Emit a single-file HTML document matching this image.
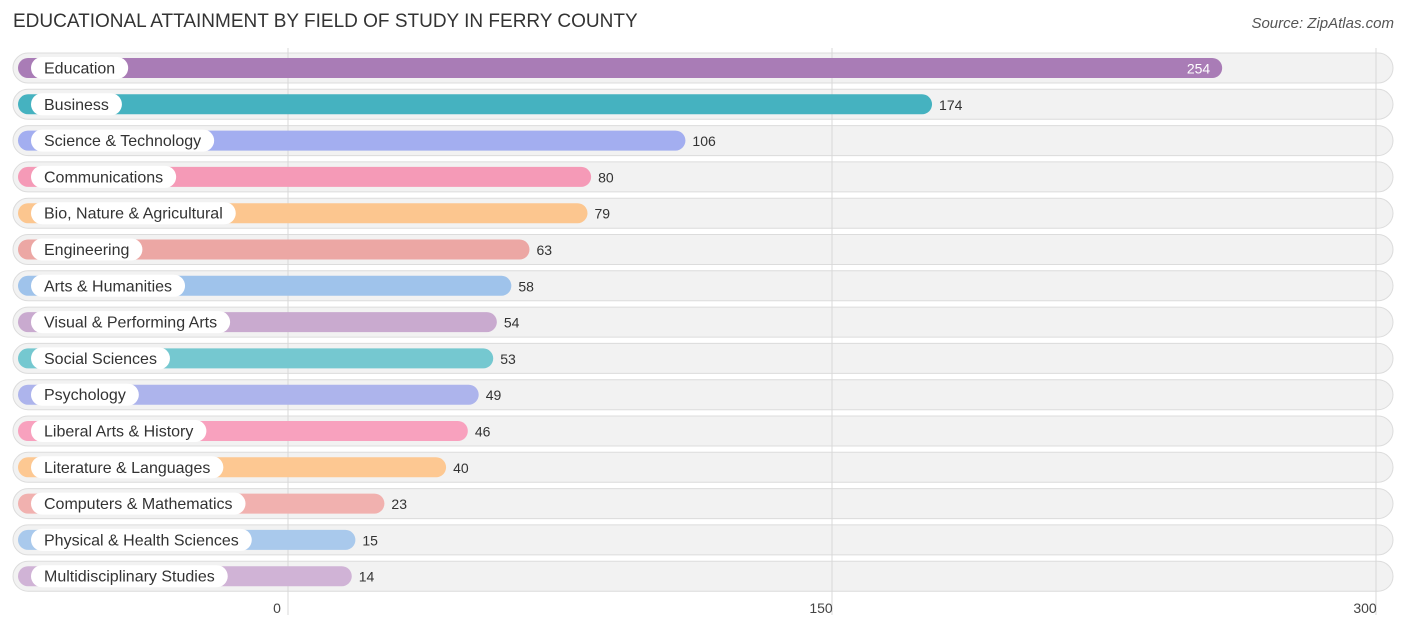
<!DOCTYPE html>
<html><head><meta charset="utf-8"><style>
body{margin:0;width:1406px;height:631px;background:#fff;font-family:"Liberation Sans",sans-serif;overflow:hidden;position:relative}
.title{position:absolute;left:13px;top:11px;font-size:19px;color:#333}
.src{position:absolute;right:12px;top:15px;font-size:15px;color:#555;font-style:italic}
svg{position:absolute;left:0;top:0}
</style></head><body>
<div class="title">EDUCATIONAL ATTAINMENT BY FIELD OF STUDY IN FERRY COUNTY</div>
<div class="src">Source: ZipAtlas.com</div>
<svg id="chart" width="1406" height="631"></svg>
<script>
const categories=["Education","Business","Science & Technology","Communications","Bio, Nature & Agricultural","Engineering","Arts & Humanities","Visual & Performing Arts","Social Sciences","Psychology","Liberal Arts & History","Literature & Languages","Computers & Mathematics","Physical & Health Sciences","Multidisciplinary Studies"];
const values=[254,174,106,80,79,63,58,54,53,49,46,40,23,15,14];
const colors=["#a97cb6","#45b2c0","#a3aef0","#f59ab7","#fcc68f","#eca7a4","#9fc3eb","#c9aacf","#75c8d0","#adb4ec","#f8a1be","#fdc892","#f1b1af","#a9c9ec","#d0b3d6"];
const ticks=[0,150,300];
const NS="http://www.w3.org/2000/svg";
const svg=document.getElementById("chart");
const x0=288,scale=544/150;
const xs=v=>x0+v*scale;
const yc=i=>68+i*36.3;
function mk(t,a){const e=document.createElementNS(NS,t);for(const k in a)e.setAttribute(k,a[k]);svg.appendChild(e);return e;}
categories.forEach((c,i)=>{
  const y=yc(i);
  const tr=mk("rect",{x:13,y:y-15,width:1380,height:30,rx:15,fill:"#f2f2f2",stroke:"#dcdcdc","stroke-width":1});
  
  
});
ticks.forEach(t=>{
  const l=mk("line",{x1:xs(t),x2:xs(t),y1:48,y2:615,stroke:"#d8d8d8","stroke-width":1});
  
  
  const tx=mk("text",{x:xs(t)-11+(t==0?0:0),y:613,"text-anchor":"middle","font-size":14,fill:"#444"});
  tx.textContent=t;
  
  
});
categories.forEach((c,i)=>{
  const y=yc(i);const end=xs(values[i])+13;
  const b=mk("rect",{x:18,y:y-10,width:end-18,height:20,rx:10,fill:colors[i]});
  
  
  const lt=mk("text",{x:44,y:y+5.5,"font-size":16,fill:"#333"});
  lt.textContent=c;
  const w=lt.getBBox().width;
  const lp=mk("rect",{x:31,y:y-11,width:w+26,height:22,rx:11,fill:"#fff"});
  svg.insertBefore(lp,lt);
  
  
  
  
  const inside=values[i]>200;
  const vt=mk("text",{x:inside?end-12:end+7,y:y+5.5,"font-size":14,fill:inside?"#fff":"#333","text-anchor":inside?"end":"start"});
  vt.textContent=values[i];
  
  
});
</script>
</body></html>
